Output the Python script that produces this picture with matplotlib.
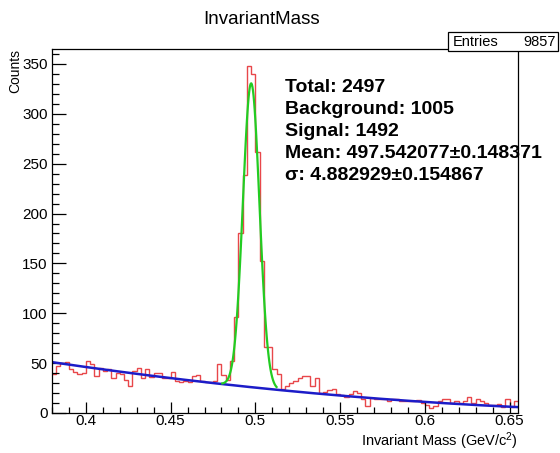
import numpy as np
import matplotlib
matplotlib.use("Agg")
import matplotlib.pyplot as plt
from matplotlib.ticker import MultipleLocator, FormatStrFormatter
from matplotlib.patches import Rectangle

plt.rcParams['font.family'] = ['Liberation Sans', 'DejaVu Sans']
plt.rcParams['mathtext.default'] = 'regular'

# histogram binning (GeV) and bin contents
mass_lo, mass_hi = 0.38, 0.655
counts = [
    39, 47, 50, 51, 44, 41, 39, 40, 52, 49,
    37, 45, 42, 44, 35, 40, 39, 33, 27, 42,
    45, 35, 44, 36, 40, 40, 35, 35, 41, 32,
    31, 32, 31, 37, 38, 32, 31, 31, 32, 49,
    38, 33, 52, 96, 180, 239, 348, 340, 262, 152,
    66, 66, 44, 39, 24, 27, 30, 32, 35, 37,
    37, 27, 35, 20, 21, 23, 24, 19, 18, 16,
    19, 22, 20, 14, 7, 15, 14, 14, 14, 12,
    14, 14, 12, 12, 12, 12, 13, 10, 8, 5,
    7, 12, 14, 14, 10, 12, 10, 12, 16, 10,
    14, 12, 10, 8, 8, 9, 6, 14, 6, 12,
]
entries = 9857

# fit results
total = 2497
background = 1005
signal = 1492
mean_mev, mean_err = 497.542077, 0.148371
sigma_mev, sigma_err = 4.882929, 0.154867
bkg_pars = [51.0, -250.6, 315.0]   # pol2 in (m - mass_lo)
fit_range = (0.4805, 0.5125)

edges = np.linspace(mass_lo, mass_hi, len(counts) + 1)
bin_w = edges[1] - edges[0]


def bkg(m):
    t = m - mass_lo
    return bkg_pars[0] + bkg_pars[1] * t + bkg_pars[2] * t ** 2


def total_fit(m):
    mu, sg = mean_mev / 1000.0, sigma_mev / 1000.0
    amp = signal * bin_w / (sg * np.sqrt(2 * np.pi))
    return amp * np.exp(-0.5 * ((m - mu) / sg) ** 2) + bkg(m)


fig = plt.figure(figsize=(5.6, 4.53), dpi=100)
ax = fig.add_axes([52 / 560, 40 / 453, 466 / 560, 364 / 453])

ax.stairs(counts, edges, color='#e8474a', lw=1.0, baseline=None)

mb = np.linspace(mass_lo, mass_hi, 200)
ax.plot(mb, bkg(mb), color='#1c1cc8', lw=1.8)

mf = np.linspace(fit_range[0], fit_range[1], 100)
ax.plot(mf, total_fit(mf), color='#22cc22', lw=1.6)

ax.set_xlim(mass_lo, mass_hi)
ax.set_ylim(0, 365)

ax.xaxis.set_major_locator(MultipleLocator(0.05))
ax.xaxis.set_minor_locator(MultipleLocator(0.01))
ax.xaxis.set_major_formatter(FormatStrFormatter('%g'))
ax.yaxis.set_major_locator(MultipleLocator(50))
ax.yaxis.set_minor_locator(MultipleLocator(10))
ax.tick_params(which='both', direction='in', top=False, right=False,
               labelsize=11, width=0.9)
ax.tick_params(axis='x', which='major', length=8, pad=1)
ax.tick_params(axis='x', which='minor', length=4)
ax.tick_params(axis='y', which='major', length=10, pad=3)
ax.tick_params(axis='y', which='minor', length=5)
for s in ax.spines.values():
    s.set_linewidth(0.9)

fig.text(262 / 560, 1 - 19 / 453, 'InvariantMass', ha='center', va='center',
         fontsize=13.5)
fig.text(15 / 560, 1 - 49 / 453, 'Counts', rotation=90, ha='center',
         va='top', fontsize=10)
fig.text(518 / 560, 1 - 441 / 453, 'Invariant Mass (GeV/c$^{2}$)',
         ha='right', va='center', fontsize=10.5)

# stats box
box = Rectangle((448 / 560, 1 - 51 / 453), 110 / 560, 19 / 453,
                transform=fig.transFigure, facecolor='white',
                edgecolor='black', lw=0.9, zorder=5)
fig.add_artist(box)
fig.text(453 / 560, 1 - 41.5 / 453, 'Entries', ha='left', va='center',
         fontsize=10.5, zorder=6)
fig.text(556 / 560, 1 - 41.5 / 453, f'{entries}', ha='right', va='center',
         fontsize=10.5, zorder=6)

lines = [
    f'Total: {total}',
    f'Background: {background}',
    f'Signal: {signal}',
    f'Mean: {mean_mev:.6f}\u00b1{mean_err:.6f}',
    f'\u03c3: {sigma_mev:.6f}\u00b1{sigma_err:.6f}',
]
for i, s in enumerate(lines):
    fig.text(285 / 560, 1 - (88 + 22 * i) / 453, s, ha='left', va='center',
             fontsize=14, fontweight='bold')

fig.savefig('out.png', dpi=100)
